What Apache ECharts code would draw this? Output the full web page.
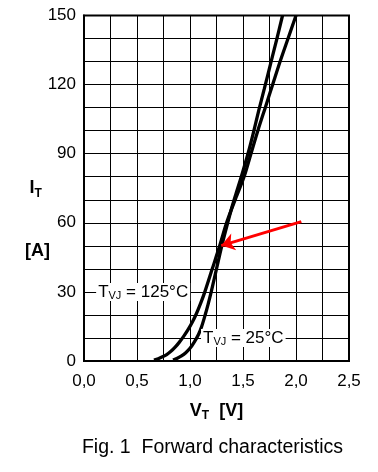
<!DOCTYPE html>
<html><head><meta charset="utf-8">
<script src="https://cdn.jsdelivr.net/npm/echarts@6/dist/echarts.min.js"></script>
<style>html,body{margin:0;padding:0;background:#fff}#c{width:378px;height:472px}</style>
</head><body><div id="c"></div>
<script>
// ---- data ----
const xTickLabels = ['0,0', '0,5', '1,0', '1,5', '2,0', '2,5'];
const yTickLabels = ['0', '30', '60', '90', '120', '150'];
const curve25V  = [0.84, 0.88, 0.92, 0.96, 1.00, 1.04, 1.08, 1.11, 1.14, 1.17, 1.20, 1.25, 1.30, 1.35, 1.40, 1.45, 1.50, 1.55, 1.60, 1.65, 1.70, 1.76, 1.82, 1.873];
const curve25I  = [0.4, 1.2, 2.2, 3.6, 5.5, 8.2, 11.5, 15, 19.5, 24.5, 30, 40, 50, 59, 67.5, 75, 82.5, 90.5, 99.5, 109, 118, 129, 140, 150];
const curve125V = [0.66, 0.70, 0.74, 0.78, 0.82, 0.86, 0.90, 0.94, 0.98, 1.02, 1.06, 1.10, 1.14, 1.21, 1.28, 1.345, 1.43, 1.51, 1.575, 1.64, 1.71, 1.78, 1.85, 1.925, 2.0];
const curve125I = [0.4, 1.0, 1.8, 2.8, 4.2, 6.0, 8.2, 10.7, 13.5, 16.7, 20.5, 25, 30, 40, 50, 60, 70.5, 80, 90, 100, 110, 120, 130, 140, 150];
const arrowFrom = [2.05, 60.5];
const arrowTo   = [1.295, 50.1];
const label125At = [0.558, 30];
const label25At  = [1.503, 10];
const label125Text = ['T', 'VJ', ' = 125°C'];
const label25Text  = ['T', 'VJ', ' = 25°C'];
const caption = 'Fig. 1  Forward characteristics';

// ---- chart ----
const FONT = '"Liberation Sans", Arial, Helvetica, sans-serif';
const zip = (a, b) => a.map((v, i) => [v, b[i]]);
const labelRich = {
  t: { fontFamily: FONT, fontSize: 17, color: '#000', lineHeight: 18 },
  s: { fontFamily: FONT, fontSize: 11, color: '#000', lineHeight: 11, padding: [9, 0, 0, 0] }
};
function annot(at, parts) {
  return {
    coord: at, symbol: 'circle', symbolSize: 1, itemStyle: { color: 'rgba(0,0,0,0)' },
    label: {
      show: true, position: 'inside', align: 'center', verticalAlign: 'middle',
      backgroundColor: '#fff', padding: [0, 2, 0, 2],
      formatter: '{t|' + parts[0] + '}{s|' + parts[1] + '}{t|' + parts[2] + '}',
      rich: labelRich
    }
  };
}

const chart = echarts.init(document.getElementById('c'), null, { renderer: 'canvas' });
chart.setOption({
  animation: false,
  backgroundColor: '#fff',
  grid: { left: 84, right: 29, top: 15.5, bottom: 111, show: true, borderColor: '#000', borderWidth: 2, backgroundColor: 'transparent' },
  xAxis: {
    type: 'value', min: 0, max: 2.5, interval: 0.25,
    axisLine: { show: true, lineStyle: { color: '#000', width: 2 } },
    axisTick: { show: false },
    splitLine: { show: true, lineStyle: { color: '#000', width: 1 } },
    axisLabel: {
      margin: 12, color: '#000', fontFamily: FONT, fontSize: 17,
      formatter: v => { const k = Math.round(v / 0.5 * 1000) / 1000; return Number.isInteger(k) ? xTickLabels[k] : ''; }
    },
    name: '{v|V}{s|T}{v|  [V]}', nameLocation: 'middle', nameGap: 40,
    nameTextStyle: {
      rich: {
        v: { fontFamily: FONT, fontSize: 18, fontWeight: 'bold', color: '#000', lineHeight: 20 },
        s: { fontFamily: FONT, fontSize: 12, fontWeight: 'bold', color: '#000', lineHeight: 12, padding: [10, 0, 0, 0] }
      }
    }
  },
  yAxis: {
    type: 'value', min: 0, max: 150, interval: 10,
    axisLine: { show: true, lineStyle: { color: '#000', width: 2 } },
    axisTick: { show: false },
    splitLine: { show: true, lineStyle: { color: '#000', width: 1 } },
    axisLabel: {
      margin: 8, color: '#000', fontFamily: FONT, fontSize: 17,
      formatter: v => { const k = Math.round(v / 30 * 1000) / 1000; return Number.isInteger(k) ? yTickLabels[k] : ''; }
    },
    name: '{v|I}{s|T}', nameLocation: 'middle', nameRotate: 0, nameGap: 41,
    nameTextStyle: {
      rich: {
        v: { fontFamily: FONT, fontSize: 18, fontWeight: 'bold', color: '#000', lineHeight: 20 },
        s: { fontFamily: FONT, fontSize: 12, fontWeight: 'bold', color: '#000', lineHeight: 12, padding: [10, 0, 0, 0] }
      }
    }
  },
  graphic: [
    { type: 'text', left: 25, top: 242, style: { text: '[A]', font: 'bold 18px ' + FONT, fill: '#000' } },
    { type: 'text', x: 212.5, y: 447.5, style: { text: caption, font: '19.5px ' + FONT, fill: '#000', textAlign: 'center', textVerticalAlign: 'middle' } }
  ],
  series: [
    {
      name: 'TVJ = 125°C', type: 'line', data: zip(curve125V, curve125I), smooth: 0.3,
      showSymbol: false, lineStyle: { color: '#000', width: 3.3 }, z: 3,
      markPoint: { silent: true, data: [annot(label125At, label125Text)] }
    },
    {
      name: 'TVJ = 25°C', type: 'line', data: zip(curve25V, curve25I), smooth: 0.3,
      showSymbol: false, lineStyle: { color: '#000', width: 3.3 }, z: 3,
      markPoint: { silent: true, data: [annot(label25At, label25Text)] },
      markLine: {
        silent: true, symbol: ['none', 'arrow'], symbolSize: 13,
        lineStyle: { color: '#ff0000', width: 3, type: 'solid' },
        label: { show: false },
        data: [[{ coord: arrowFrom }, { coord: arrowTo }]]
      }
    }
  ]
});
</script></body></html>
